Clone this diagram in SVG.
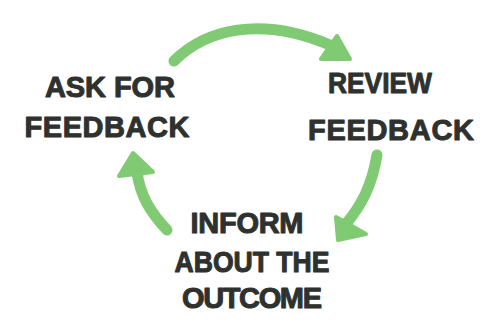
<svg xmlns="http://www.w3.org/2000/svg" width="500" height="330" viewBox="0 0 500 330">
<style>
.lbl{font-family:"Liberation Sans",Arial,sans-serif;font-weight:bold;font-size:29px;fill:#2e312e;stroke:#2e312e;stroke-width:1;stroke-linejoin:round;text-anchor:middle}
.arc{fill:none;stroke:#7fca72;stroke-width:11;stroke-linecap:round}
.head{fill:#7fca72;stroke:#7fca72;stroke-width:4;stroke-linejoin:round}
</style>
<rect width="500" height="330" fill="#ffffff"/>
<g id="connectors">
  <g id="ask-to-review">
    <path class="arc" d="M174,61 C205,30 260,15 330,45"/>
    <polygon class="head" points="337,36 350,59 321,59"/>
  </g>
  <g id="review-to-inform">
    <path class="arc" d="M377,155 C372,185 362,205 345,225"/>
    <polygon class="head" points="336,217 366,234 338,240"/>
  </g>
  <g id="inform-to-ask">
    <path class="arc" d="M167,230 C150,212 140,195 137,172"/>
    <polygon class="head" points="133,153 119,176 153,172"/>
  </g>
</g>
<g id="node-ask">
  <text class="lbl" x="110" y="97" textLength="130">ASK FOR</text>
  <text class="lbl" x="107" y="137" textLength="165">FEEDBACK</text>
</g>
<g id="node-review">
  <text class="lbl" x="380" y="93" textLength="104" lengthAdjust="spacingAndGlyphs">REVIEW</text>
  <text class="lbl" x="391" y="140" textLength="166">FEEDBACK</text>
</g>
<g id="node-inform">
  <text class="lbl" x="247" y="233" textLength="113">INFORM</text>
  <text class="lbl" x="252" y="272" textLength="155" lengthAdjust="spacingAndGlyphs">ABOUT THE</text>
  <text class="lbl" x="252" y="308" textLength="140">OUTCOME</text>
</g>
</svg>
